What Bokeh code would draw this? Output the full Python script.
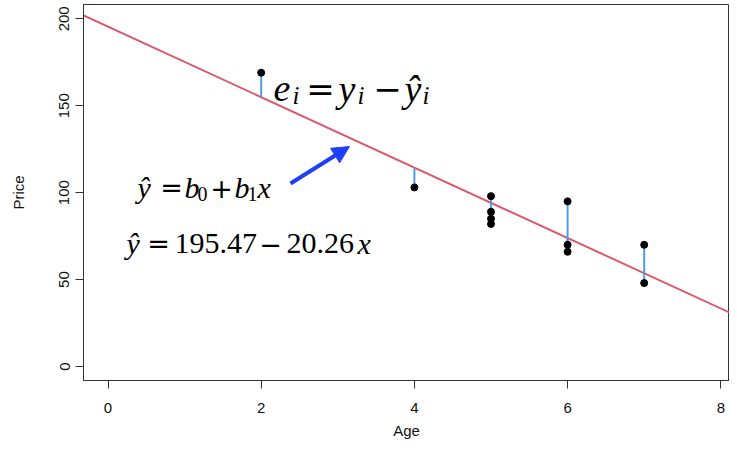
import numpy as np
from bokeh.plotting import figure
from bokeh.models import Range1d, FixedTicker, Slope, Arrow, NormalHead, Label
from bokeh.embed import file_html
from bokeh.resources import INLINE

# ---- data ----
age = [2, 4, 5, 5, 5, 5, 6, 6, 6, 7, 7]
price = [169, 103, 98, 89, 85, 82, 95, 70, 66, 70, 48]
x_ticks = [0, 2, 4, 6, 8]
y_ticks = [0, 50, 100, 150, 200]

# least-squares fit (gives 195.47 - 20.26 x)
b1, b0 = np.polyfit(age, price, 1)
fitted = [b0 + b1 * a for a in age]

RED = "#DA5A6A"
SEG = "#4F9BE6"
BLUE = "#1F3FF5"
AXC = "#333333"

# pixel layout of reference: x=0 at 107.5px, 76.6 px/unit; y=0 at 366px, 1.7385 px/unit
W, H = 729, 443
FL, FT, FB = 83, 4, 380

def X(px):
    return (px - 107.5) / 76.6

def Y(py):
    return (366.0 - py) / 1.7385

p = figure(width=W, height=H, output_backend="svg", toolbar_location=None,
           x_range=Range1d(X(FL), X(W)), y_range=Range1d(Y(FB), Y(FT)),
           min_border_left=FL, min_border_right=0, min_border_top=FT,
           min_border_bottom=H - FB)
p.grid.visible = False
p.outline_line_color = AXC
p.outline_line_width = 1
p.background_fill_color = "white"
p.border_fill_color = "white"

for ax in (p.xaxis[0], p.yaxis[0]):
    ax.axis_line_color = AXC
    ax.major_tick_line_color = AXC
    ax.major_tick_in = 0
    ax.major_tick_out = 8
    ax.minor_tick_line_color = None
    ax.major_label_text_font = "Liberation Sans"
    ax.major_label_text_font_size = "15px"
    ax.major_label_text_color = "#111111"
    ax.axis_label_text_font = "Liberation Sans"
    ax.axis_label_text_font_size = "15px"
    ax.axis_label_text_font_style = "normal"
    ax.axis_label_text_color = "#111111"

p.xaxis.ticker = FixedTicker(ticks=x_ticks)
p.yaxis.ticker = FixedTicker(ticks=y_ticks)
p.xaxis.axis_label = "Age"
p.yaxis.axis_label = "Price"
p.xaxis.major_label_standoff = 14
p.xaxis.axis_label_standoff = 6
p.yaxis.major_label_orientation = "vertical"
p.yaxis.major_label_standoff = 6
p.yaxis.axis_label_standoff = 30

# regression line
slope = Slope(gradient=b1, y_intercept=b0, line_color=RED, line_width=2)
slope.level = "underlay"
p.add_layout(slope)

# residuals and points
p.segment(x0=age, y0=price, x1=age, y1=fitted, line_color=SEG, line_width=2)
p.scatter(age, price, size=7, color="black")

# arrow
p.add_layout(Arrow(end=NormalHead(size=17, fill_color=BLUE, line_color=BLUE),
                   x_start=X(290), y_start=Y(183), x_end=X(349), y_end=Y(146),
                   line_color=BLUE, line_width=4))

def piece(text, px, py, size, style="italic", font="Liberation Serif", align="left"):
    p.add_layout(Label(x=X(px), y=Y(py), text=text, text_font=font,
                       text_font_style=style, text_font_size=f"{size}px",
                       text_align=align, text_baseline="alphabetic",
                       text_color="black"))

OPF = "DejaVu Sans"

# e_i = y_i - yhat_i
piece("e", 273, 88, 38)
piece("i", 292, 95, 25)
piece("=", 320, 88, 34, style="normal", font=OPF, align="center")
piece("y", 338, 88, 38)
piece("i", 357, 95, 25)
piece("\u2212", 387, 88, 34, style="normal", font=OPF, align="center")
piece("\u0177", 404, 88, 38)
piece("i", 422, 95, 25)

# yhat = b0 + b1 x
piece("\u0177", 137, 187, 30)
piece("=", 171, 187, 27, style="normal", font=OPF, align="center")
piece("b", 184, 187, 30)
piece("0", 197, 193, 20, style="normal")
piece("+", 221, 187, 27, style="normal", font=OPF, align="center")
piece("b", 234, 187, 30)
piece("1", 247, 193, 20, style="normal")
piece("x", 257, 187, 30)

# yhat = 195.47 - 20.26 x
piece("\u0177", 126, 243, 30)
piece("=", 158, 243, 27, style="normal", font=OPF, align="center")
piece(f"{b0:.2f}", 174, 243, 30, style="normal")
piece("\u2212", 270, 243, 27, style="normal", font=OPF, align="center")
piece(f"{-b1:.2f}", 286, 243, 30, style="normal")
piece("x", 357, 243, 30)

open("out.html", "w").write(file_html(p, INLINE))
